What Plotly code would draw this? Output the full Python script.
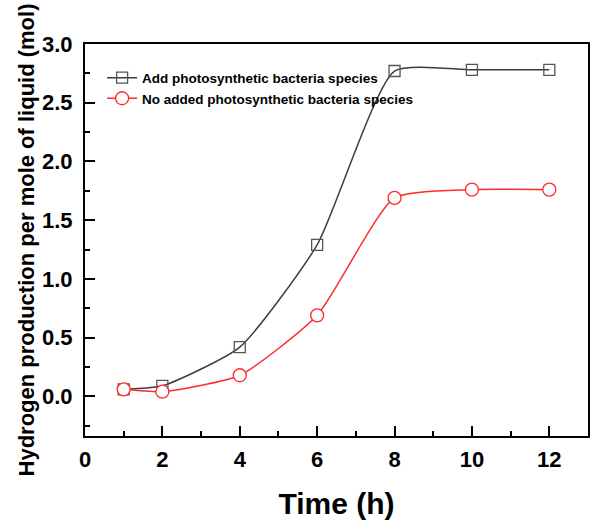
import plotly.graph_objects as go

time = [1, 2, 4, 6, 8, 10, 12]
add_psb = [0.06, 0.09, 0.42, 1.29, 2.77, 2.78, 2.78]
no_psb = [0.06, 0.04, 0.18, 0.69, 1.69, 1.76, 1.76]

fig = go.Figure()
fig.add_trace(go.Scatter(
    x=time, y=add_psb, mode="lines+markers",
    name="Add photosynthetic bacteria species",
    line=dict(color="#3c3c3c", width=1.5, shape="spline", smoothing=0.55),
    marker=dict(symbol="square-open", size=11, color="#555555", line=dict(width=1.3)),
))
fig.add_trace(go.Scatter(
    x=time, y=no_psb, mode="lines+markers",
    name="No added photosynthetic bacteria species",
    line=dict(color="#ff2a2a", width=1.5, shape="spline", smoothing=0.55),
    marker=dict(symbol="circle", size=13, color="white", line=dict(width=1.3, color="#ff2a2a")),
))

FONT = "Arial, Liberation Sans"
fig.update_layout(
    width=592, height=520,
    margin=dict(l=85, r=2, t=44, b=84),
    plot_bgcolor="white", paper_bgcolor="white",
    font=dict(family=FONT, color="black"),
    showlegend=True,
    legend=dict(
        x=0.034, y=0.953, xanchor="left", yanchor="top",
        font=dict(size=13.5, family=FONT, color="black", weight="bold"),
        bgcolor="rgba(0,0,0,0)", tracegroupgap=0, itemwidth=30,
    ),
    xaxis=dict(
        range=[0, 13.0], tickmode="array", tickvals=[0, 2, 4, 6, 8, 10, 12],
        ticktext=["0", "2", "4", "6", "8", "10", "12"],
        ticks="inside", ticklen=10, tickwidth=1.5, tickcolor="black",
        minor=dict(tickmode="array", tickvals=[1, 3, 5, 7, 9, 11], ticks="inside", ticklen=5, tickwidth=1.5, tickcolor="black"),
        showline=True, linecolor="black", linewidth=2, mirror=True,
        showgrid=False, zeroline=False,
        tickfont=dict(size=22, family=FONT, color="black", weight="bold"),
        ticklabelstandoff=3,
        title=dict(text="Time (h)", font=dict(size=30, family=FONT, color="black", weight="bold"), standoff=24),
    ),
    yaxis=dict(
        range=[-0.337, 3.0], tickmode="array", tickvals=[0, 0.5, 1.0, 1.5, 2.0, 2.5, 3.0],
        ticktext=["0.0", "0.5", "1.0", "1.5", "2.0", "2.5", "3.0"],
        ticks="inside", ticklen=10, tickwidth=1.5, tickcolor="black",
        minor=dict(tickmode="array", tickvals=[-0.25, 0.25, 0.75, 1.25, 1.75, 2.25, 2.75], ticks="inside", ticklen=5, tickwidth=1.5, tickcolor="black"),
        showline=True, linecolor="black", linewidth=2, mirror=True,
        showgrid=False, zeroline=False,
        tickfont=dict(size=22, family=FONT, color="black", weight="bold"),
        ticklabelstandoff=6,
        title=dict(text="Hydrogen production per mole of liquid (mol)", font=dict(size=22, family=FONT, color="black", weight="bold"), standoff=1),
    ),
)

fig.write_html("out.html")
